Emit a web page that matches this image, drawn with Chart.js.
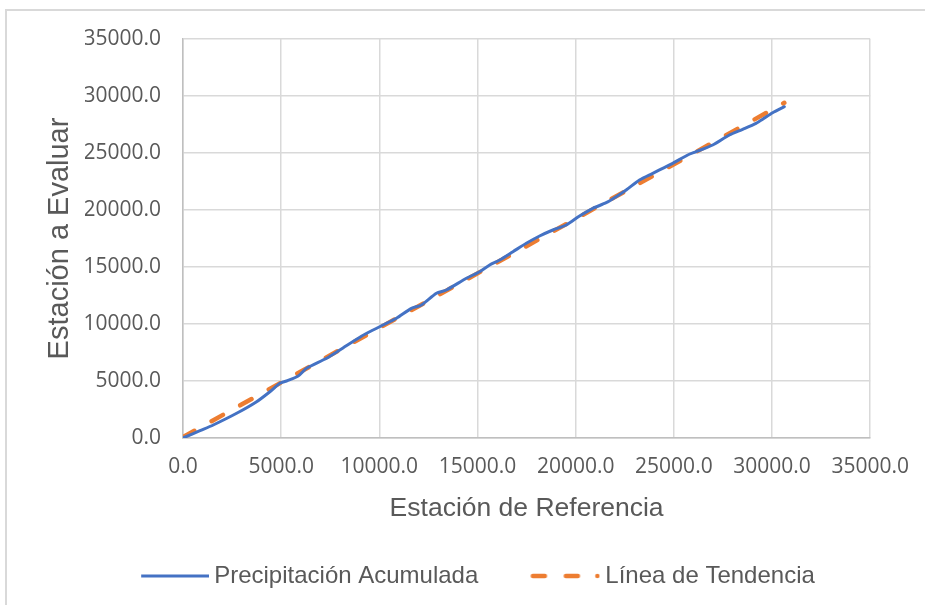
<!DOCTYPE html>
<html>
<head>
<meta charset="utf-8">
<script src="https://cdn.jsdelivr.net/npm/chart.js@4.4.1/dist/chart.umd.min.js"></script>
<style>
  html, body { margin: 0; padding: 0; background: #ffffff; }
  #lienzo { position: relative; width: 925px; height: 605px; overflow: hidden; }
  #marco { position: absolute; left: 5px; top: 9px; width: 1000px; height: 700px;
           border: 2px solid #d9d9d9; box-sizing: border-box; }
  #grafico { position: absolute; left: 0; top: 0; }
</style>
</head>
<body>
<div id="lienzo">
  <div id="marco"></div>
  <canvas id="grafico" width="925" height="605"></canvas>
</div>
<script>
// Precipitación acumulada: estación de referencia (x) contra estación a evaluar (y)
const estacionReferencia = [
  0, 865, 1541, 2732, 3749, 4426, 4935, 5275, 5866, 6293, 7311, 7987, 9106,
  9681, 10190, 10872, 11635, 12143, 12906, 13415, 14433, 15109, 15618, 16127,
  16804, 17485, 18162, 18838, 19520, 20196, 20873, 21555, 22063, 22572, 23249,
  23925, 24943, 25706, 26133, 26978, 27827, 28504, 29186, 29522, 30030, 30625
];
const estacionEvaluar = [
  0, 640, 1140, 2167, 3184, 4061, 4798, 5000, 5439, 6114, 6991, 7719, 8947,
  9474, 9912, 10500, 11377, 11667, 12693, 12982, 14009, 14588, 15175, 15614,
  16342, 17079, 17719, 18246, 18684, 19474, 20149, 20640, 21167, 21754, 22632,
  23219, 24096, 24825, 25114, 25702, 26579, 27079, 27605, 27956, 28535, 29061
];

// Línea de tendencia (extremos del ajuste lineal)
const tendenciaX = [0, 30625];
const tendenciaY = [80, 29400];

// Marcas de los ejes
const marcasX = [0, 5000, 10000, 15000, 20000, 25000, 30000, 35000];
const marcasY = [0, 5000, 10000, 15000, 20000, 25000, 30000, 35000];

const series = [
  { nombre: 'Precipitación Acumulada', x: estacionReferencia, y: estacionEvaluar },
  { nombre: 'Línea de Tendencia', x: tendenciaX, y: tendenciaY }
];

const AZUL = '#4472C4';
const NARANJA = '#ED7D31';
const TEXTO = '#595959';
const FUENTE_TEXTO = '"Liberation Sans", Arial, sans-serif';
const FUENTE_MARCAS = '"Open Sans", sans-serif';

const aPuntos = (xs, ys) => xs.map((v, i) => ({ x: v, y: ys[i] }));

// Símbolos de la leyenda: trazo continuo y trazo discontinuo
function simboloLeyenda(tipo) {
  const c = document.createElement('canvas');
  c.width = 75; c.height = 10;
  const g = c.getContext('2d');
  if (tipo === 'continua') {
    g.strokeStyle = AZUL; g.lineWidth = 3; g.lineCap = 'butt';
    g.beginPath(); g.moveTo(7, 5); g.lineTo(75, 5); g.stroke();
  } else {
    g.strokeStyle = NARANJA; g.fillStyle = NARANJA; g.lineWidth = 4.5; g.lineCap = 'round';
    g.beginPath(); g.moveTo(7.5, 5); g.lineTo(19.5, 5); g.stroke();
    g.beginPath(); g.moveTo(40.5, 5); g.lineTo(52.5, 5); g.stroke();
    g.beginPath(); g.arc(72, 5, 2.25, 0, Math.PI * 2); g.fill();
  }
  return c;
}
const simbolos = [simboloLeyenda('continua'), simboloLeyenda('discontinua')];

const fijarMarcas = lista => scale => { scale.ticks = lista.map(v => ({ value: v })); };

function dibujar() {
  new Chart(document.getElementById('grafico'), {
    type: 'scatter',
    data: {
      datasets: [
        {
          label: series[0].nombre,
          data: aPuntos(series[0].x, series[0].y),
          showLine: true,
          borderColor: AZUL,
          backgroundColor: AZUL,
          borderWidth: 3,
          pointRadius: 0,
          tension: 0.25,
          borderCapStyle: 'round',
          borderJoinStyle: 'round'
        },
        {
          label: series[1].nombre,
          data: aPuntos(series[1].x, series[1].y),
          showLine: true,
          borderColor: NARANJA,
          backgroundColor: NARANJA,
          borderWidth: 4.5,
          borderDash: [13, 19.7],
          borderCapStyle: 'round',
          pointRadius: 0
        }
      ]
    },
    options: {
      responsive: false,
      animation: false,
      devicePixelRatio: 1,
      layout: { padding: { top: 39, right: 54, bottom: 7, left: 85 } },
      plugins: {
        tooltip: { enabled: false },
        legend: {
          position: 'bottom',
          labels: {
            usePointStyle: true,
            pointStyleWidth: 61,
            padding: 54,
            color: TEXTO,
            font: { family: FUENTE_TEXTO, size: 24 },
            generateLabels: chart => chart.data.datasets.map((ds, i) => ({
              text: ds.label,
              fontColor: TEXTO,
              pointStyle: simbolos[i],
              datasetIndex: i,
              hidden: false,
              lineWidth: 0,
              strokeStyle: 'transparent',
              fillStyle: 'transparent'
            }))
          }
        }
      },
      scales: {
        x: {
          type: 'linear',
          min: 0,
          max: 35000,
          afterBuildTicks: fijarMarcas(marcasX),
          afterFit: s => { s.height = 72; },
          grid: { color: '#d9d9d9', lineWidth: 1.5, drawTicks: false },
          border: { color: '#bfbfbf', width: 1.5 },
          ticks: {
            maxRotation: 0,
            padding: 16,
            color: TEXTO,
            font: { family: FUENTE_MARCAS, size: 21 },
            callback: v => Number(v).toFixed(1)
          },
          title: {
            display: true,
            text: 'Estación de Referencia',
            color: TEXTO,
            font: { family: FUENTE_TEXTO, size: 26.5 },
            padding: { top: 0, bottom: -14.9 }
          }
        },
        y: {
          type: 'linear',
          min: 0,
          max: 35000,
          afterBuildTicks: fijarMarcas(marcasY),
          afterFit: s => { s.width = 98; },
          grid: { color: '#d9d9d9', lineWidth: 1.5, drawTicks: false },
          border: { color: '#bfbfbf', width: 1.5 },
          ticks: {
            padding: 22,
            color: TEXTO,
            font: { family: FUENTE_MARCAS, size: 21 },
            callback: v => Number(v).toFixed(1)
          },
          title: {
            display: true,
            text: 'Estación a Evaluar',
            color: TEXTO,
            font: { family: FUENTE_TEXTO, size: 29 },
            padding: { top: -42.4, bottom: 0 }
          }
        }
      }
    }
  });
}

Promise.all([
  document.fonts.load('21px "Open Sans"'),
  document.fonts.load('24px "Liberation Sans"')
]).then(dibujar, dibujar);
</script>
</body>
</html>
